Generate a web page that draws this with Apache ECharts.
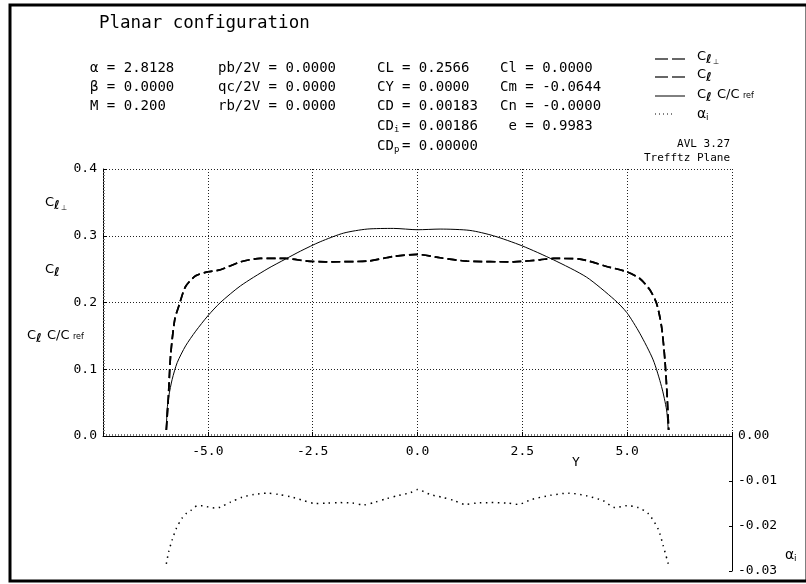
<!DOCTYPE html>
<html>
<head>
<meta charset="utf-8">
<script src="https://cdn.jsdelivr.net/npm/echarts@6/dist/echarts.min.js"></script>
<style>
  html, body { margin: 0; padding: 0; background: #fff; }
  #chart { width: 806px; height: 584px; }
</style>
</head>
<body>
<div id="chart"></div>
<script>
// Trefftz-plane spanwise loading, planar configuration (AVL 3.27)

// Spanwise stations Y and section lift coefficient c_l (c_l-perp coincides for a planar wing)
const clY   = [-5.99, -5.94, -5.89, -5.79, -5.67, -5.53, -5.29, -5.00, -4.70, -4.22, -3.75, -3.15, -2.63, -2.20, -1.20, -0.57, 0.00,
               0.54, 1.18, 2.29, 2.92, 3.24, 3.87, 4.51, 4.99, 5.30, 5.54, 5.70, 5.82, 5.90, 5.95, 5.99];
const clVal = [0.009, 0.059, 0.119, 0.174, 0.199, 0.224, 0.240, 0.246, 0.249, 0.261, 0.266, 0.266, 0.262, 0.261, 0.262, 0.269, 0.272,
               0.267, 0.262, 0.261, 0.264, 0.266, 0.265, 0.254, 0.246, 0.236, 0.219, 0.199, 0.164, 0.114, 0.064, 0.009];

// Spanwise stations Y and c_l * c / c_ref
const clcY   = [-5.99, -5.97, -5.93, -5.85, -5.73, -5.53, -5.29, -5.00, -4.70, -4.22, -3.59, -3.15, -2.79, -2.32, -1.76, -1.20, -0.57, 0.00,
                0.54, 1.25, 1.81, 2.49, 3.24, 4.03, 4.70, 4.99, 5.30, 5.62, 5.82, 5.94, 5.98];
const clcVal = [0.009, 0.040, 0.060, 0.085, 0.110, 0.135, 0.157, 0.180, 0.200, 0.225, 0.250, 0.265, 0.277, 0.291, 0.304, 0.310, 0.311, 0.309,
                0.310, 0.308, 0.300, 0.285, 0.264, 0.238, 0.204, 0.185, 0.154, 0.114, 0.074, 0.039, 0.009];

// Spanwise stations Y and induced angle alpha_i
const aiY   = [-5.99, -5.93, -5.85, -5.75, -5.61, -5.51, -5.40, -5.25, -5.12, -4.98, -4.83, -4.70, -4.46, -4.18, -3.90, -3.59, -3.31, -3.03,
               -2.73, -2.44, -2.16, -1.88, -1.56, -1.28, -1.01, -0.73, -0.45, -0.17, 0.00,
               0.30, 0.58, 0.86, 1.14, 1.41, 1.73, 2.13, 2.40, 2.72, 3.16, 3.60, 4.03, 4.43, 4.71, 4.99, 5.26, 5.50, 5.74, 5.86, 5.98];
const aiVal = [-0.0284, -0.0256, -0.0231, -0.0205, -0.0182, -0.0172, -0.0165, -0.0155, -0.0155, -0.0158, -0.0160, -0.0158, -0.0147, -0.0136,
               -0.0130, -0.0127, -0.0130, -0.0135, -0.0143, -0.0150, -0.0149, -0.0148, -0.0149, -0.0153, -0.0147, -0.0139, -0.0132, -0.0126, -0.0119,
               -0.0130, -0.0136, -0.0143, -0.0152, -0.0149, -0.0148, -0.0149, -0.0152, -0.0141, -0.0132, -0.0127, -0.0133, -0.0144, -0.0159,
               -0.0155, -0.0159, -0.0172, -0.0207, -0.0244, -0.0284];

// Axis ranges
const yAxisRange  = { min: -7.5, max: 7.5, step: 2.5 };
const clAxisRange = { min: 0.0, max: 0.4, step: 0.1 };
const aiAxisRange = { min: -0.03, max: 0.0, step: 0.01 };

// Run summary lines
const col1 = ['\u03B1 = 2.8128', '\u03B2 = 0.0000', 'M = 0.200'];
const col2 = ['pb/2V = 0.0000', 'qc/2V = 0.0000', 'rb/2V = 0.0000'];
const col3 = [['CL', '', '= 0.2566'], ['CY', '', '= 0.0000'], ['CD', '', '= 0.00183'], ['CD', 'i', '= 0.00186'], ['CD', 'p', '= 0.00000']];
const col4 = ['Cl = 0.0000', 'Cm = -0.0644', 'Cn = -0.0000', ' e = 0.9983'];

const MONO = '"DejaVu Sans Mono", monospace';
const SANS = '"DejaVu Sans", sans-serif';

const pairs = (xs, ys) => xs.map((x, i) => [x, ys[i]]);

const G = { left: 103, right: 74, top: 169, h: 267, h2: 135 };

const graphics = [];
function txt(x, y, s, size, opts) {
  opts = opts || {};
  graphics.push({
    type: 'text', x: x, y: y, silent: true,
    style: {
      text: s,
      font: (opts.weight || 'normal') + ' ' + size + 'px ' + (opts.family || MONO),
      fill: '#000',
      textAlign: opts.align || 'left',
      textVerticalAlign: 'middle'
    }
  });
}
function seg(x1, y1, x2, y2, dash, w) {
  graphics.push({
    type: 'line', silent: true,
    shape: { x1: x1, y1: y1, x2: x2, y2: y2 },
    style: { stroke: '#000', lineWidth: w || 1, lineDash: dash || null }
  });
}
// c_l symbols
function symClPerp(x, y) { txt(x, y, 'C', 13, {family: SANS}); txt(x + 9, y + 3, '\u2113', 12, {family: SANS, weight: 'bold'}); txt(x + 16, y + 5, '\u22A5', 7, {family: SANS}); }
function symCl(x, y)     { txt(x, y, 'C', 13, {family: SANS}); txt(x + 9, y + 3, '\u2113', 12, {family: SANS, weight: 'bold'}); }
function symClc(x, y)    { symCl(x, y); txt(x + 20, y, 'C/C', 13, {family: SANS}); txt(x + 46, y + 1, 'ref', 8, {family: SANS}); }
function symAi(x, y)     { txt(x, y, '\u03B1', 14, {family: SANS, weight: 'normal'}); txt(x + 9, y + 4, 'i', 9, {family: SANS}); }

// Frame
graphics.push({ type: 'rect', silent: true, shape: { x: 10, y: 5, width: 797, height: 576 }, style: { fill: 'none', stroke: '#000', lineWidth: 3 } });

// Title and run summary
txt(99, 23, 'Planar configuration', 17.5);
const rowY = [68, 87, 106, 126, 146];
col1.forEach((s, i) => txt(90, rowY[i], s, 14));
col2.forEach((s, i) => txt(218, rowY[i], s, 14));
col3.forEach((r, i) => {
  txt(377, rowY[i], r[0], 14);
  if (r[1]) txt(394, rowY[i] + 4, r[1], 9);
  txt(402, rowY[i], r[2], 14);
});
col4.forEach((s, i) => txt(500, rowY[i], s, 14));

// Key
const keyY = [59, 77, 96, 114];
seg(655, keyY[0], 668, keyY[0], null, 1.2); seg(672, keyY[0], 685, keyY[0], null, 1.2); symClPerp(697, keyY[0] - 2);
seg(655, keyY[1], 668, keyY[1], null, 1.2); seg(672, keyY[1], 685, keyY[1], null, 1.2); symCl(697, keyY[1] - 2);
seg(655, keyY[2], 685, keyY[2], null, 1); symClc(697, keyY[2] - 1);
seg(655, keyY[3], 675, keyY[3], [1, 3], 1); symAi(697, keyY[3]);
txt(730, 144, 'AVL 3.27', 11, {align: 'right'});
txt(730, 158, 'Trefftz Plane', 11, {align: 'right'});

// Axis captions
symClPerp(45, 203);
symCl(45, 270);
symClc(27, 336);
txt(572, 463, 'Y', 13);
symAi(785, 555);

const dotted = { show: true, lineStyle: { color: '#222', width: 1, type: [1, 2] } };
const axisBlack = { show: true, onZero: false, lineStyle: { color: '#000', width: 1 } };

const option = {
  animation: false,
  backgroundColor: '#fff',
  grid: [
    { left: G.left, right: G.right, top: G.top, height: G.h },
    { left: G.left, right: G.right, top: G.top + G.h, height: G.h2 }
  ],
  xAxis: [
    {
      type: 'value', gridIndex: 0, min: yAxisRange.min, max: yAxisRange.max, interval: yAxisRange.step,
      axisLine: axisBlack,
      axisTick: { show: true, inside: true, length: 4, lineStyle: { color: '#000' } },
      minorTick: { show: true, splitNumber: 35, length: 2, lineStyle: { color: '#777' } },
      splitLine: dotted,
      axisLabel: {
        margin: 9, color: '#000', fontFamily: MONO, fontSize: 13,
        formatter: v => (Math.abs(v) > 7 ? '' : v.toFixed(1))
      }
    },
    {
      type: 'value', gridIndex: 1, min: yAxisRange.min, max: yAxisRange.max, interval: yAxisRange.step,
      show: false
    }
  ],
  yAxis: [
    {
      type: 'value', gridIndex: 0, min: clAxisRange.min, max: clAxisRange.max, interval: clAxisRange.step,
      axisLine: axisBlack,
      axisTick: { show: true, inside: true, length: 4, lineStyle: { color: '#000' } },
      minorTick: { show: true, splitNumber: 22, length: 2, lineStyle: { color: '#777' } },
      splitLine: dotted,
      axisLabel: { margin: 6, color: '#000', fontFamily: MONO, fontSize: 13, formatter: v => v.toFixed(1) }
    },
    {
      type: 'value', gridIndex: 1, position: 'right', min: aiAxisRange.min, max: aiAxisRange.max, interval: aiAxisRange.step,
      axisLine: axisBlack,
      axisTick: { show: true, inside: true, length: 3, lineStyle: { color: '#000' } },
      splitLine: { show: false },
      axisLabel: { margin: 6, color: '#000', fontFamily: MONO, fontSize: 13, formatter: v => v.toFixed(2) }
    }
  ],
  series: [
    {
      name: 'cl_perp', type: 'line', xAxisIndex: 0, yAxisIndex: 0, data: pairs(clY, clVal),
      showSymbol: false, symbol: 'none', smooth: 0.25, silent: true,
      lineStyle: { color: '#000', width: 1.7, type: [9, 4] }
    },
    {
      name: 'cl', type: 'line', xAxisIndex: 0, yAxisIndex: 0, data: pairs(clY, clVal),
      showSymbol: false, symbol: 'none', smooth: 0.25, silent: true,
      lineStyle: { color: '#000', width: 1.7, type: [9, 4] }
    },
    {
      name: 'cl_c_cref', type: 'line', xAxisIndex: 0, yAxisIndex: 0, data: pairs(clcY, clcVal),
      showSymbol: false, symbol: 'none', smooth: 0.25, silent: true,
      lineStyle: { color: '#000', width: 1 }
    },
    {
      name: 'alpha_i', type: 'line', xAxisIndex: 1, yAxisIndex: 1, data: pairs(aiY, aiVal),
      showSymbol: false, symbol: 'none', smooth: 0.25, silent: true,
      lineStyle: { color: '#000', width: 1.5, type: [1.5, 4.5] }
    }
  ],
  graphic: graphics
};

const chart = echarts.init(document.getElementById('chart'), null, { renderer: 'canvas' });
chart.setOption(option);
</script>
</body>
</html>
